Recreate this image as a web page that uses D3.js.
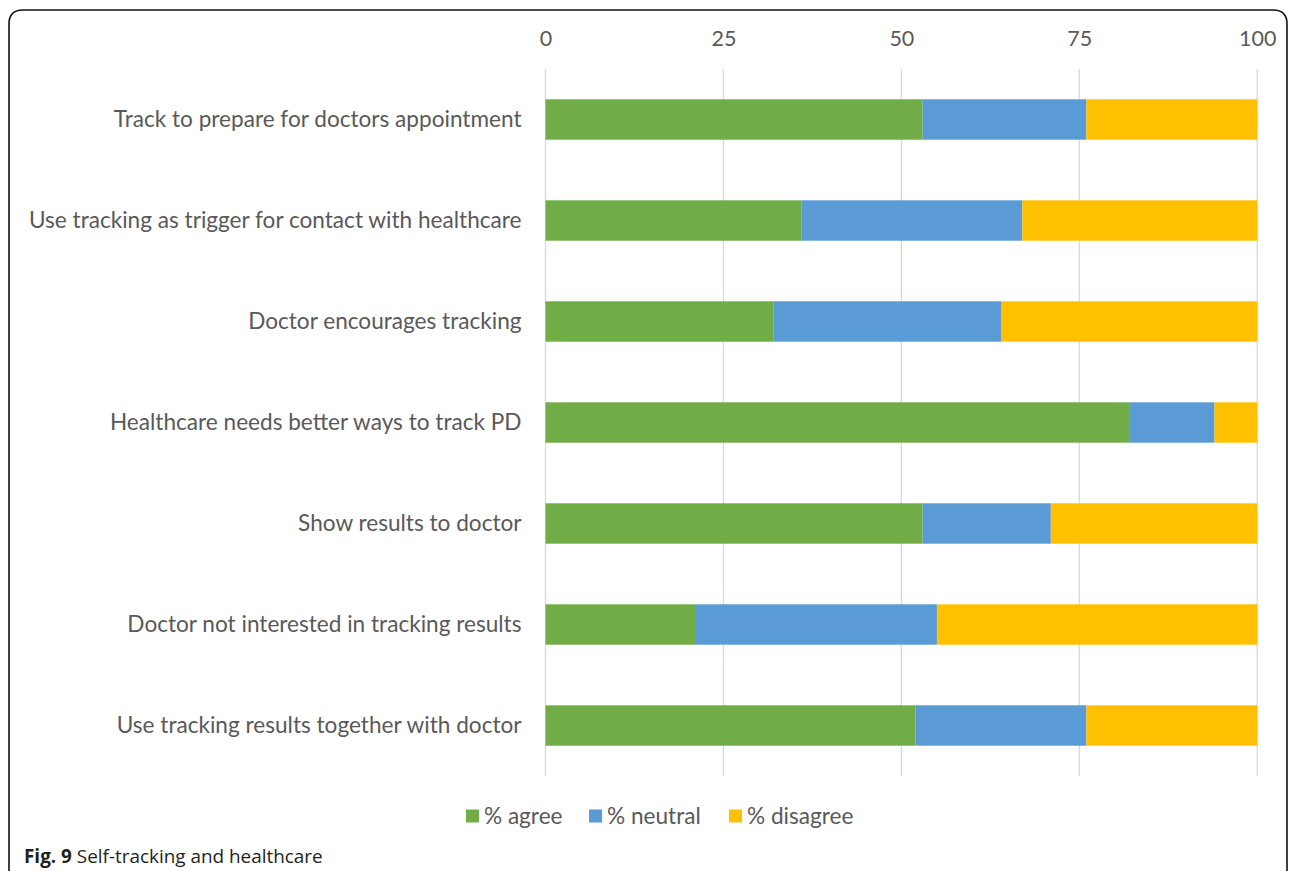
<!DOCTYPE html>
<html>
<head>
<meta charset="utf-8">
<script src="https://cdn.jsdelivr.net/npm/d3@7"></script>
<style>
  html, body { margin: 0; padding: 0; background: #fff; }
  svg { display: block; }
</style>
</head>
<body>
<svg id="chart" width="1293" height="871"></svg>
<script>
// Survey statements, top to bottom
const categories = [
  "Track to prepare for doctors appointment",
  "Use tracking as trigger for contact with healthcare",
  "Doctor encourages tracking",
  "Healthcare needs better ways to track PD",
  "Show results to doctor",
  "Doctor not interested in tracking results",
  "Use tracking results together with doctor"
];
const agree    = [53, 36, 32, 82, 53, 21, 52];
const neutral  = [23, 31, 32, 12, 18, 34, 24];
const disagree = [24, 33, 36,  6, 29, 45, 24];
const seriesNames = ["% agree", "% neutral", "% disagree"];
const tickValues = [0, 25, 50, 75, 100];

const colors = ["#70AD47", "#5B9BD5", "#FFC000"];
const textColor = "#595959";
const fontFamily = "Lato, 'Open Sans', sans-serif";

const svg = d3.select("#chart");

// Frame around the figure (open at the bottom edge)
svg.append("path")
  .attr("d", "M9,871 L9,24 Q9,10 23,10 L1273,10 Q1287,10 1287,24 L1287,871")
  .attr("fill", "none")
  .attr("stroke", "#111")
  .attr("stroke-width", 1.6);

const margin = { left: 545.5, right: 1257.2, top: 69, bottom: 776 };

const x = d3.scaleLinear().domain([0, 100]).range([margin.left, margin.right]);
const y = d3.scaleBand().domain(categories).range([margin.top, margin.bottom]).paddingInner(0.6).paddingOuter(0.3);

// Vertical gridlines
svg.append("g")
  .selectAll("line")
  .data(tickValues)
  .join("line")
  .attr("x1", d => x(d)).attr("x2", d => x(d))
  .attr("y1", margin.top).attr("y2", margin.bottom)
  .attr("stroke", "#d9d9d9")
  .attr("stroke-width", 1.3);

// Top axis labels
const axis = d3.axisTop(x).tickValues(tickValues).tickSize(0).tickPadding(0);
const axisG = svg.append("g")
  .attr("transform", "translate(0,46)")
  .call(axis);
axisG.select(".domain").remove();
axisG.selectAll("text")
  .attr("fill", textColor)
  .attr("font-family", fontFamily)
  .attr("font-size", 21.5);

// Category labels
const catAxis = d3.axisLeft(y).tickSize(0).tickPadding(24);
const catG = svg.append("g")
  .attr("transform", `translate(${margin.left},0)`)
  .call(catAxis);
catG.select(".domain").remove();
catG.selectAll("text")
  .attr("fill", textColor)
  .attr("font-family", fontFamily)
  .attr("font-size", 22.6);

// Stacked bars
const rows = categories.map((c, i) => ({
  cat: c, agree: agree[i], neutral: neutral[i], disagree: disagree[i]
}));
const stack = d3.stack().keys(["agree", "neutral", "disagree"]);
const layers = stack(rows);

svg.append("g")
  .selectAll("g")
  .data(layers)
  .join("g")
  .attr("fill", (d, i) => colors[i])
  .selectAll("rect")
  .data(d => d)
  .join("rect")
  .attr("x", d => x(d[0]))
  .attr("y", d => y(d.data.cat))
  .attr("width", d => x(d[1]) - x(d[0]))
  .attr("height", y.bandwidth());

// Legend
const legendX = [466, 589, 729];
const legend = svg.append("g");
seriesNames.forEach((name, i) => {
  legend.append("rect")
    .attr("x", legendX[i]).attr("y", 809.5)
    .attr("width", 13).attr("height", 13)
    .attr("fill", colors[i]);
  legend.append("text")
    .attr("x", legendX[i] + 18).attr("y", 816)
    .attr("dy", "0.35em")
    .attr("fill", textColor)
    .attr("font-family", fontFamily)
    .attr("font-size", 22.6)
    .text(name);
});

// Caption
const caption = svg.append("text")
  .attr("x", 24).attr("y", 863)
  .attr("fill", "#231f20")
  .attr("font-family", "'Open Sans', sans-serif")
  .attr("font-size", 18.9);
caption.append("tspan").attr("font-weight", "bold").text("Fig. 9");
caption.append("tspan").text(" Self-tracking and healthcare");
</script>
</body>
</html>
